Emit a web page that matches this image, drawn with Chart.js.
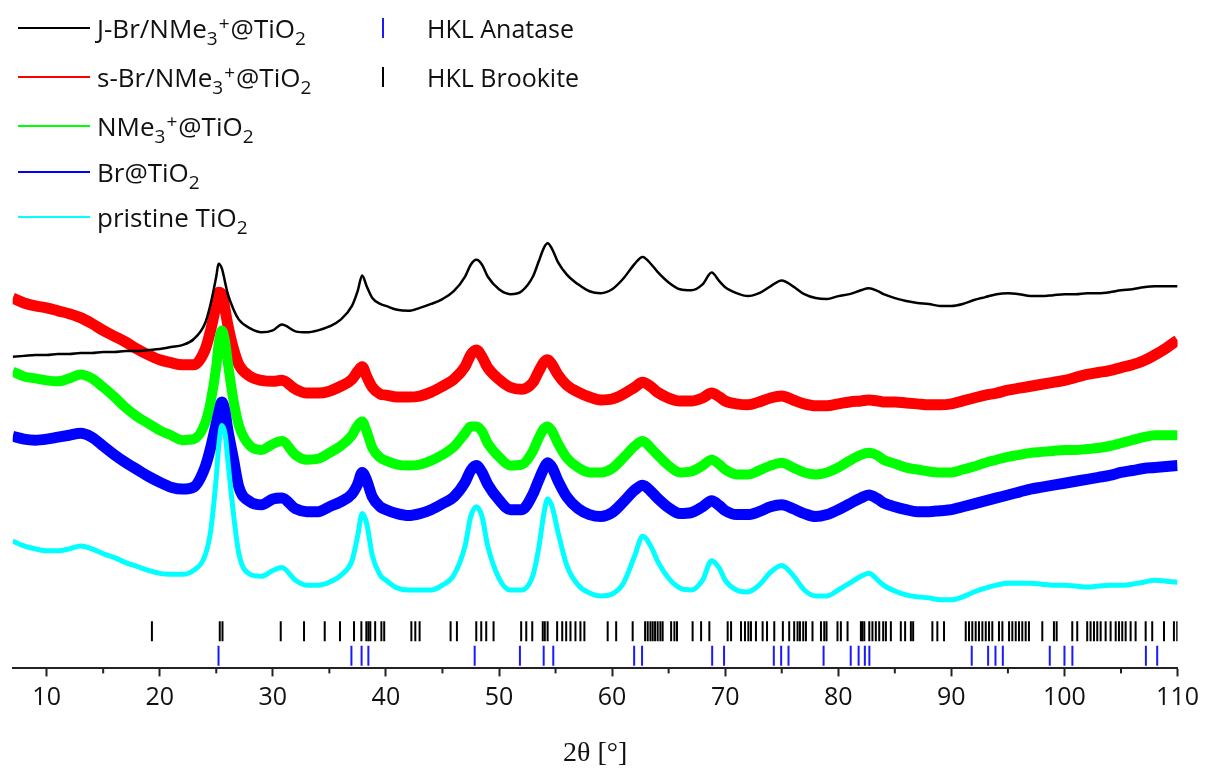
<!DOCTYPE html>
<html><head><meta charset="utf-8">
<script src="https://cdn.jsdelivr.net/npm/chart.js@4.4.0/dist/chart.umd.min.js"></script>
<style>html,body{margin:0;padding:0;background:#fff}canvas{display:block}</style>
</head><body>
<canvas id="c" width="1205" height="769"></canvas>
<script>
// ---- data (2θ in degrees, intensities in arbitrary offset units) ----
const twoTheta = [7,8,9,10,11,12,13,14,15,16,17,18,19,20,21,22,23,24,24.5,25,25.2,25.5,25.8,26,26.5,27,28,29,30,30.8,32,33,34,35,36,37,37.5,37.9,38.3,38.8,39.5,40,41,42,43,44,45,46,47,47.5,48,48.5,49,50,51,52,53,53.5,54,54.3,54.7,55.2,56,57,58,59,60,61,62,62.7,63.5,64,65,66,67,68,68.8,69.5,70,71,72,73,74,75,76,77,78,79,80,81,82,82.7,83.5,84,85,86,87,88,89,90,91,92,93,94,95,96,97,98,99,100,101,102,103,104,105,106,107,108,109,110];

const jBr = [318,319,320,320,321,321,322,322,323,323,324,324,325,326,328,330,336,352,
 372,400,413,408,393,383,367,356, 347,343,345,351, 344,343,345,349,356,370,
 385,401,390,378,372, 370,366,365,368,372,377,385,400, 412,417,412,400, 387,382,385,400,
 415,430,434,428,415, 402,392,385,383,387,398,413, 420,412,405, 394,387,386,392, 404,395,389,
 383,380,383,390,396,390,382,378,377,380,382,386, 388,385,
 382,378,375,373,372,370,370,372,376,379,382,383,382,380,380,381,382,382,383,383,384,386,387,389,390,390,390];

const sBr = [378,373,370,368,365,362,358,352,345,339,333,326,320,315,312,310,310,325,
 345,372,384,382,365,352,327,310, 298,294,293,294, 285,281,281,283,288,295,
 303,308,298,287,280, 279,277,277,278,282,288,295,308, 320,325,318,307, 295,287,285,292,
 303,313,315,310,300, 289,282,277,274,275,280,287, 292,287,282, 276,273,273,276, 281,277,273,
 270,269,272,276,278,274,270,268,268,270,272,273, 274,273,
 272,272,271,270,269,269,270,273,276,279,281,284,286,288,290,292,294,297,300,302,304,307,310,314,320,327,335];

const nMe3 = [303,298,296,294,293,296,300,296,287,277,266,257,250,243,238,233,234,250,
 272,308,330,345,332,314,275,248, 227,223,229,232, 218,213,214,220,227,238,
 248,252,242,225,215, 212,208,207,208,212,218,226,240, 247,247,242,230, 216,207,208,222,
 235,245,247,242,230, 215,205,200,200,204,215,227, 232,224,218, 207,200,201,207, 213,208,203,
 198,198,202,207,210,205,200,198,200,205,212,218, 220,217,
 213,209,205,203,201,200,200,203,206,210,213,216,218,220,221,222,223,223,224,225,227,230,233,236,238,238,238];

const brTiO2 = [237,234,233,234,236,238,240,236,227,218,210,203,196,190,185,183,185,205,
 225,250,260,272,260,245,215,185, 170,167,173,174, 163,160,160,165,170,178,
 188,200,192,175,165, 162,158,156,158,162,168,175,190, 202,207,200,188, 172,162,162,178,
 192,205,210,205,192, 175,163,157,155,159,170,182, 187,180,174, 164,158,159,165, 171,166,161,
 157,157,160,165,167,163,158,155,157,162,168,174, 177,173,
 169,165,162,160,160,161,162,165,168,171,174,177,180,183,185,187,189,191,193,195,197,200,202,204,205,206,207];

const pristine = [130,125,122,120,120,122,125,122,117,113,108,104,100,97,96,96,100,115,
 140,195,225,248,238,215,160,117, 96,94,100,103, 90,85,85,88,95,110,
 135,158,148,115,95, 90,82,80,80,80,85,95,125, 155,165,155,125, 92,80,80,95,
 122,160,173,165,140, 105,85,77,74,76,87,115, 135,123,110, 92,82,80,90, 110,102,90,
 80,78,85,98,105,95,80,74,74,80,87,94, 97,90,
 85,79,75,73,72,70,70,73,78,82,85,87,87,87,86,85,85,84,83,84,85,85,86,88,90,89,88];

const hklAnatase = [25.2,36.95,37.85,38.45,47.85,51.85,53.95,54.8,61.95,62.65,68.85,69.9,74.3,74.95,75.6,78.7,81.1,81.8,82.35,82.75,91.8,93.25,93.9,94.55,98.7,100.0,100.7,107.2,108.2];

const hklBrookite = [19.31,25.31,25.55,30.7,32.76,34.59,35.94,37.18,37.83,38.27,38.45,38.62,39.05,39.6,39.85,
 42.25,42.6,42.98,45.72,46.28,47.99,48.43,48.87,49.52,51.96,52.41,52.94,53.87,54.05,54.3,55.14,55.59,55.94,56.32,56.76,
 57.2,57.55,59.61,60.36,61.82,62.92,63.15,63.39,63.59,63.8,64.03,64.27,64.47,65.22,65.51,65.74,67.12,67.87,68.6,
 70.22,70.52,71.4,71.75,72.05,72.28,72.72,73.31,73.7,74.34,75.1,75.66,76.1,76.4,76.61,76.9,77.14,77.72,78.47,78.76,78.96,
 79.93,80.23,80.82,82.0,82.12,82.3,82.74,83.02,83.32,83.62,83.97,84.21,84.65,85.53,85.91,86.42,86.62,88.32,88.76,89.35,
 91.27,91.56,91.85,92.15,92.44,92.74,93.04,93.33,93.62,94.21,94.51,95.1,95.39,95.69,95.98,96.27,96.57,96.86,98.04,
 99.07,99.31,100.69,101.13,102.01,102.31,102.61,102.9,103.2,103.64,104.08,104.53,104.82,105.11,105.41,105.85,106.29,
 107.18,107.76,108.8,109.68,109.97];

const xTickValues = [10,20,30,40,50,60,70,80,90,100,110];
const xMinorTickValues = [15,25,35,45,55,65,75,85,95,105];

const seriesLabels = ['J-Br/NMe_3^+@TiO_2','s-Br/NMe_3^+@TiO_2','NMe_3^+@TiO_2','Br@TiO_2','pristine TiO_2'];
const hklLabels = ['HKL Anatase','HKL Brookite'];
const xTitle = '2θ [°]';

// ---- styles ----
const seriesData = [jBr, sBr, nMe3, brTiO2, pristine];
const seriesColors = ['#000000','#ff0000','#00ff00','#0000ff','#00ffff'];
const seriesWidths = [2.5, 11, 10, 11, 5];
const seriesOrder = [0, 5, 4, 3, 2];
const hklColors = ['#1a1aff','#000000'];
const FONT = "'Open Sans', sans-serif";

[jBr,sBr,nMe3,brTiO2,pristine].forEach(a=>{ if(a.length!==twoTheta.length) throw new Error('length mismatch '+a.length); });

const datasets = seriesData.map((arr,i)=>({
  label: seriesLabels[i].replace(/[_^]/g,''),
  data: twoTheta.map((x,k)=>({x, y: arr[k]})),
  borderColor: seriesColors[i], backgroundColor: seriesColors[i],
  borderWidth: seriesWidths[i], pointRadius: 0, fill: false,
  cubicInterpolationMode: 'monotone', order: seriesOrder[i]
}));
const hklRows = [13, 38];
[hklAnatase, hklBrookite].forEach((arr,i)=>{
  datasets.push({
    label: hklLabels[i],
    data: arr.map(x=>({x, y: hklRows[i]})),
    showLine: false, pointStyle: 'line', pointRotation: 90, pointRadius: 10,
    pointBorderWidth: 2, borderColor: hklColors[i], backgroundColor: hklColors[i], order: 10
  });
});

function parseRich(s){
  const out=[]; let buf=''; let i=0;
  while(i<s.length){
    const c=s[i];
    if(c==='_'||c==='^'){ if(buf){out.push([buf,''] );buf='';} out.push([s[i+1], c==='_'?'sub':'sup']); i+=2; }
    else { buf+=c; i++; }
  }
  if(buf) out.push([buf,'']);
  return out;
}
function drawRich(ctx, s, x, y, size){
  const small = Math.round(size*0.74);
  parseRich(s).forEach(([t,m])=>{
    if(m===''){ ctx.font = size+'px '+FONT; ctx.fillText(t,x,y); x += ctx.measureText(t).width; }
    else { ctx.font = small+'px '+FONT; const dy = m==='sub' ? size*0.27 : -size*0.30; ctx.fillText(t,x,y+dy); x += ctx.measureText(t).width + 1; }
  });
}

const decorPlugin = {
  id: 'decor',
  afterDraw(chart){
    const ctx = chart.ctx;
    const xs = chart.scales.x;
    const bottom = chart.chartArea.bottom;
    ctx.save();
    // minor ticks
    ctx.strokeStyle = '#222'; ctx.lineWidth = 2;
    xMinorTickValues.forEach(v=>{
      const px = xs.getPixelForValue(v);
      ctx.beginPath(); ctx.moveTo(px, bottom); ctx.lineTo(px, bottom+5); ctx.stroke();
    });
    // series legend
    const rowLine = [28,77,126,172,217];
    ctx.textBaseline = 'alphabetic'; ctx.textAlign = 'left';
    seriesLabels.forEach((lab,i)=>{
      ctx.strokeStyle = seriesColors[i]; ctx.lineWidth = 2;
      ctx.beginPath(); ctx.moveTo(18, rowLine[i]); ctx.lineTo(90, rowLine[i]); ctx.stroke();
      ctx.fillStyle = '#111';
      drawRich(ctx, lab, 97, rowLine[i]+10, 26);
    });
    // HKL legend
    hklLabels.forEach((lab,i)=>{
      ctx.strokeStyle = hklColors[i]; ctx.lineWidth = 2;
      ctx.beginPath(); ctx.moveTo(383, rowLine[i]-10); ctx.lineTo(383, rowLine[i]+10); ctx.stroke();
      ctx.fillStyle = '#111';
      drawRich(ctx, lab, 427, rowLine[i]+10, 25);
    });
    ctx.restore();
  }
};

new Chart(document.getElementById('c'), {
  type: 'line',
  data: { datasets },
  options: {
    responsive: false, animation: false, devicePixelRatio: 1,
    events: [],
    layout: { padding: { left: 12.7, right: 26, top: 0, bottom: 0 } },
    plugins: { legend: { display: false }, tooltip: { enabled: false } },
    scales: {
      x: {
        type: 'linear', min: 7, max: 110,
        afterBuildTicks: (s)=>{ s.ticks = xTickValues.map(v=>({value:v})); },
        ticks: { color: '#111', font: { family: FONT, size: 25 }, padding: 6, maxRotation: 0, autoSkip: false },
        grid: { drawOnChartArea: false, drawTicks: true, tickLength: 8, tickWidth: 2, tickColor: '#222' },
        border: { display: true, color: '#222', width: 2 },
        title: { display: true, text: xTitle, color: '#111', font: { family: "'Liberation Serif', serif", size: 28, lineHeight: 1.1 }, padding: { top: 19.8, bottom: 0 } }
      },
      y: { type: 'linear', display: false, min: 0, max: 670 }
    }
  },
  plugins: [decorPlugin]
});
</script>
</body></html>
